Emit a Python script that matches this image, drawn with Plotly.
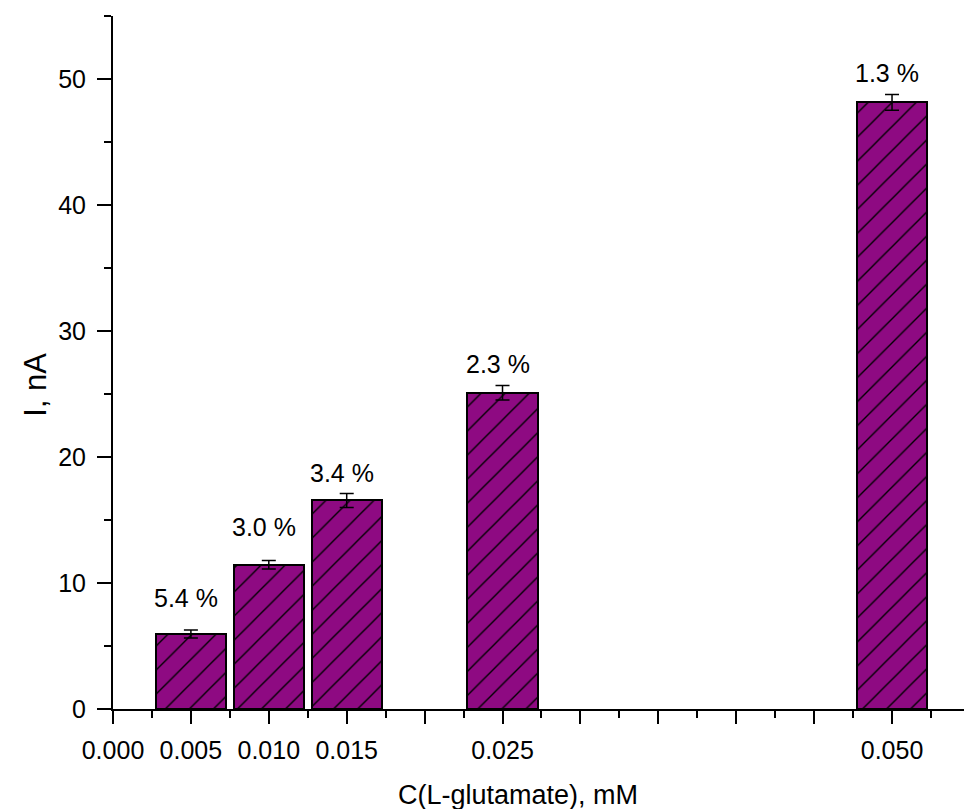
import plotly.graph_objects as go

# L-glutamate concentration (mM), mean current (nA) and relative standard deviation (%)
concentration = [0.005, 0.010, 0.015, 0.025, 0.050]
current = [5.95, 11.45, 16.55, 25.1, 48.15]
rsd_percent = [5.4, 3.0, 3.4, 2.3, 1.3]

# x tick labels: only the measured concentrations are labelled
x_major = [0.000, 0.005, 0.010, 0.015, 0.020, 0.025, 0.030, 0.035, 0.040, 0.045, 0.050]
x_labels = ["0.000", "0.005", "0.010", "0.015", "", "0.025", "", "", "", "", "0.050"]

# absolute error derived from the stated RSD
errors = [v * r / 100 for v, r in zip(current, rsd_percent)]

# vertical pixel lift of each RSD label above its error bar
label_lift = [32, 33, 20, 21, 21]

FONT = "Liberation Sans, Arial, sans-serif"
PURPLE = "#8e0a82"

fig = go.Figure()
fig.add_trace(go.Bar(
    x=concentration,
    y=current,
    width=0.0045,
    marker=dict(
        color=PURPLE,
        line=dict(color="black", width=2),
        pattern=dict(shape="/", fgcolor="black", bgcolor=PURPLE,
                     size=17, solidity=0.08, fillmode="replace"),
    ),
    error_y=dict(type="data", array=errors, visible=True,
                 color="black", thickness=1.5, width=7),
    showlegend=False,
))

for xc, v, e, r, lift in zip(concentration, current, errors, rsd_percent, label_lift):
    fig.add_annotation(
        x=xc, y=v + e, xref="x", yref="y",
        text=f"{r:.1f} %", showarrow=False,
        yanchor="middle", xanchor="center",
        yshift=lift, xshift=-5,
        font=dict(family=FONT, size=25, color="black"),
    )

# axis titles
fig.add_annotation(
    text="C(L-glutamate), mM", xref="paper", yref="paper",
    x=0.476, y=-0.124, showarrow=False, xanchor="center", yanchor="middle",
    font=dict(family=FONT, size=27, color="black"),
)
fig.add_annotation(
    text="I, nA", xref="paper", yref="paper", textangle=-90,
    x=-0.092, y=0.4675, showarrow=False, xanchor="center", yanchor="middle",
    font=dict(family=FONT, size=31, color="black"),
)

fig.update_layout(
    width=964, height=809,
    margin=dict(l=113, r=0, t=16, b=100, pad=0),
    plot_bgcolor="white", paper_bgcolor="white",
    font=dict(family=FONT, size=25, color="black"),
    bargap=0,
)

fig.update_xaxes(
    range=[0, 0.05462],
    tickmode="array", tickvals=x_major, ticktext=x_labels,
    ticks="outside", ticklen=13, tickwidth=2, tickcolor="black",
    showline=True, linewidth=2, linecolor="black",
    showgrid=False, zeroline=False,
    ticklabelstandoff=5,
    tickfont=dict(family=FONT, size=25, color="black"),
    minor=dict(tickmode="linear", tick0=0.0025, dtick=0.005, ticks="outside",
               ticklen=7, tickwidth=2, tickcolor="black", showgrid=False),
)
fig.update_yaxes(
    range=[0, 55],
    tickmode="linear", tick0=0, dtick=10,
    ticks="outside", ticklen=14, tickwidth=2, tickcolor="black",
    showline=True, linewidth=2, linecolor="black",
    showgrid=False, zeroline=False,
    ticklabelstandoff=6,
    tickfont=dict(family=FONT, size=25, color="black"),
    minor=dict(tickmode="linear", tick0=5, dtick=10, ticks="outside",
               ticklen=7, tickwidth=2, tickcolor="black", showgrid=False),
)

fig.write_html("out.html")
